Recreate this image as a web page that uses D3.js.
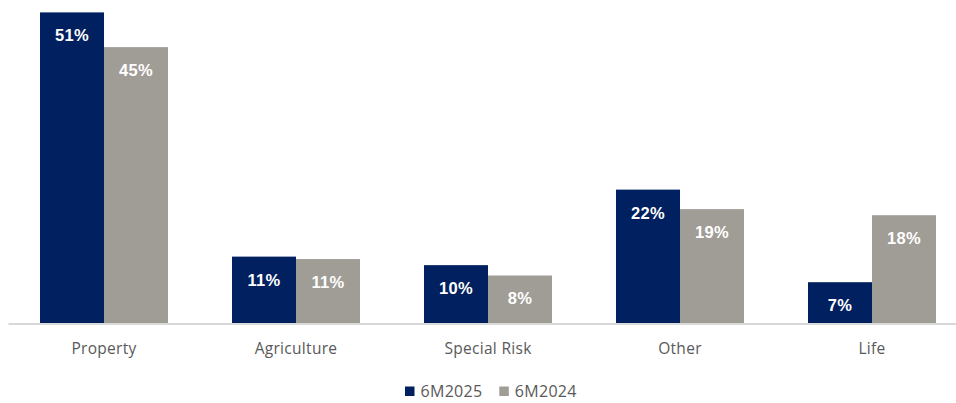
<!DOCTYPE html>
<html>
<head>
<meta charset="utf-8">
<script src="https://cdn.jsdelivr.net/npm/d3@7"></script>
<style>
    body { margin: 0; background: #fff; }
    svg { display: block; }
</style>
</head>
<body>
<svg id="chart"></svg>
<script>
// chart data
const categories = ["Property", "Agriculture", "Special Risk", "Other", "Life"];
const seriesNames = ["6M2025", "6M2024"];
const values2025 = [51.0, 10.9, 9.5, 21.9, 6.7];
const values2024 = [45.3, 10.5, 7.8, 18.7, 17.7];
const seriesColors = ["#002060", "#a09c96"];

const config = {
    width: 956,
    height: 403,
    plotLeft: 8,
    plotRight: 968,
    baseline: 323,
    top: 12.4
};

const svg = d3.select("#chart")
    .attr("width", config.width)
    .attr("height", config.height);

// flatten into rows for drawing
const rows = [];
categories.forEach((c, i) => {
    rows.push({ category: c, series: seriesNames[0], value: values2025[i] });
    rows.push({ category: c, series: seriesNames[1], value: values2024[i] });
});

const x0 = d3.scaleBand()
    .domain(categories)
    .range([config.plotLeft, config.plotRight])
    .paddingInner(1 / 3)
    .paddingOuter(1 / 6);

const x1 = d3.scaleBand()
    .domain(seriesNames)
    .range([0, x0.bandwidth()]);

const y = d3.scaleLinear()
    .domain([0, 51])
    .range([config.baseline, config.top]);

const color = d3.scaleOrdinal()
    .domain(seriesNames)
    .range(seriesColors);

// bars
const bars = svg.append("g").attr("class", "bars");
bars.selectAll("rect")
    .data(rows)
    .join("rect")
    .attr("x", d => x0(d.category) + x1(d.series))
    .attr("y", d => y(d.value))
    .attr("width", x1.bandwidth())
    .attr("height", d => y(0) - y(d.value))
    .attr("fill", d => color(d.series));

// value labels inside the bars
bars.selectAll("text")
    .data(rows)
    .join("text")
    .attr("x", d => x0(d.category) + x1(d.series) + x1.bandwidth() / 2)
    .attr("y", d => y(d.value) + 29)
    .attr("text-anchor", "middle")
    .style("font-family", "'Liberation Sans', Arial, sans-serif")
    .style("font-weight", 700)
    .style("font-size", "16.5px")
    .style("letter-spacing", "0.3px")
    .style("fill", "#ffffff")
    .text(d => Math.round(d.value) + "%");

// category axis
const xAxis = d3.axisBottom(x0).tickSize(0).tickPadding(20);
const axisG = svg.append("g")
    .attr("class", "x-axis")
    .attr("transform", `translate(0,${config.baseline})`)
    .call(xAxis)
    .call(g => g.select(".domain").remove());

axisG.append("line")
    .attr("x1", 8.5)
    .attr("x2", config.width)
    .attr("y1", 1)
    .attr("y2", 1)
    .attr("stroke", "#d9d9d9")
    .attr("stroke-width", 2);

axisG.selectAll(".tick text")
    .style("font-family", "'Open Sans', sans-serif")
    .style("font-size", "15.5px")
    .style("letter-spacing", "0.3px")
    .style("fill", "#595959");

// legend
const legend = svg.append("g")
    .attr("class", "legend")
    .attr("transform", "translate(405,386.5)");

const legendItems = legend.selectAll("g")
    .data(seriesNames)
    .join("g")
    .attr("transform", (d, i) => `translate(${i * 94.3},0)`);

legendItems.append("rect")
    .attr("width", 9.5)
    .attr("height", 9.5)
    .attr("fill", d => color(d));

legendItems.append("text")
    .attr("x", 15.5)
    .attr("y", 10.5)
    .style("font-family", "'Open Sans', sans-serif")
    .style("font-size", "16px")
    .style("letter-spacing", "0.3px")
    .style("fill", "#595959")
    .text(d => d);
</script>
</body>
</html>
